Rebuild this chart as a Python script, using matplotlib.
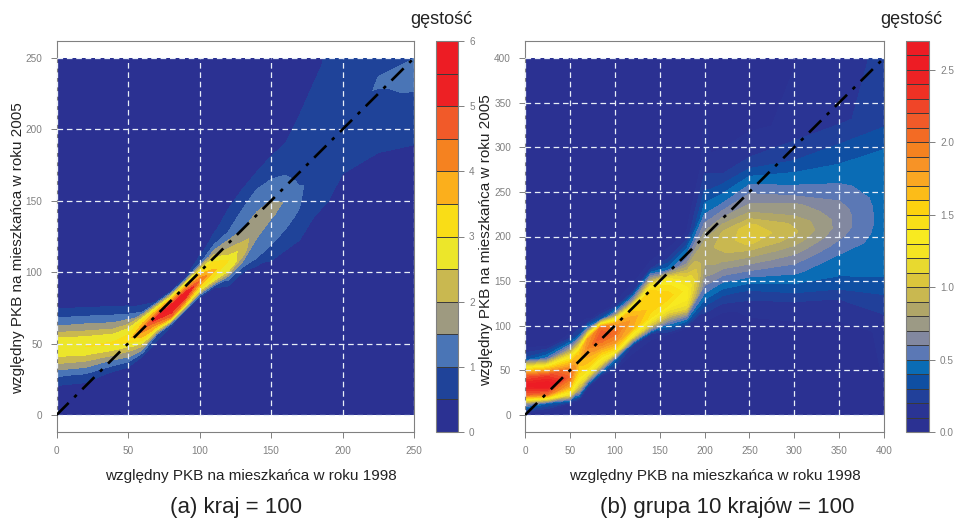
#!/usr/bin/env python3

import numpy as np
import matplotlib
matplotlib.use("Agg")
import matplotlib.pyplot as plt
from matplotlib.colors import ListedColormap, BoundaryNorm
from matplotlib.patches import Rectangle

plt.rcParams['font.family'] = ['Liberation Sans', 'DejaVu Sans']

XLABEL = 'względny PKB na mieszkańca w roku 1998'
YLABEL = 'względny PKB na mieszkańca w roku 2005'

# panel (a): density read column by column, relative to the ridge of the surface
a_ticks = [0, 50, 100, 150, 200, 250]
a_levels = [i * 0.5 for i in range(13)]
a_bar_ticks = [0, 1, 2, 3, 4, 5, 6]
a_colors = ['#2b3192', '#1f4399', '#4a75b6', '#9e9a80', '#c9b850', '#ece62a',
            '#f9dd17', '#fbaf1c', '#f58220', '#f15a29', '#ed2024', '#ed1c24']
a_x = [0, 20, 40, 50, 60, 70, 80, 90, 100, 110, 120, 130, 140, 150, 160, 170, 180, 190, 200, 225, 250]
a_ridge = [48, 48, 50, 52, 60, 68, 75, 84, 94, 101, 108, 118, 130, 144, 150, 153, 180, 190, 200, 225, 235]
a_offset = [-300, -60, -40, -28, -20, -12, -6, 0, 6, 12, 20, 28, 40, 60, 300]
a_density = [
    [0, 0, 0, .45, 1.1, 2.0, 2.6, 2.9, 2.5, 1.7, 1.0, .4, .05, 0, 0],
    [0, 0, 0, .3, .9, 1.8, 2.5, 3.0, 2.6, 1.85, 1.1, .42, .05, 0, 0],
    [0, 0, 0, .05, .42, 1.4, 2.3, 3.1, 2.6, 1.75, 1.0, .35, .05, 0, 0],
    [0, 0, 0, .03, .3, 1.4, 2.2, 3.2, 2.9, 1.9, .8, .25, .03, 0, 0],
    [0, 0, 0, 0, .3, 2.0, 3.4, 4.3, 3.1, 1.0, .2, .05, 0, 0, 0],
    [0, 0, 0, 0, .05, 1.0, 3.6, 5.3, 3.2, .4, .1, .03, 0, 0, 0],
    [0, 0, 0, 0, .03, .6, 4.5, 5.8, 3.5, .35, .05, 0, 0, 0, 0],
    [0, 0, 0, 0, .03, .25, 3.6, 5.8, 3.5, .45, .08, 0, 0, 0, 0],
    [0, 0, 0, 0, .03, .4, 2.9, 4.4, 3.2, .9, .3, .1, .03, 0, 0],
    [0, 0, 0, .02, .1, .5, 2.8, 3.6, 3.1, 1.8, .75, .42, .1, .02, 0],
    [0, 0, 0, .02, .2, 1.2, 2.9, 3.0, 2.2, 1.7, 1.0, .7, .4, .08, 0],
    [0, 0, 0, .05, .3, 1.3, 2.2, 2.2, 1.8, 1.45, 1.15, .95, .5, .15, 0],
    [0, 0, .05, .3, 1.0, 1.3, 1.5, 1.75, 1.7, 1.5, 1.25, 1.0, .5, .15, 0],
    [0, .05, .3, .9, 1.15, 1.35, 1.52, 1.7, 1.5, 1.35, 1.03, .75, .42, .2, 0],
    [0, .02, .3, .75, 1.0, 1.2, 1.4, 1.45, 1.35, 1.15, .95, .75, .5, .3, 0],
    [0, .05, .3, .55, .75, .92, 1.03, 1.1, 1.02, .93, .85, .75, .62, .48, .1],
    [0, .2, .52, .6, .65, .7, .72, .75, .72, .7, .65, .6, .55, .47, .2],
    [0, .2, .5, .6, .65, .7, .72, .72, .72, .7, .68, .65, .6, .52, .3],
    [0, .05, .35, .55, .65, .7, .72, .72, .72, .72, .7, .7, .65, .6, .4],
    [0, .2, .52, .6, .7, .75, .8, .9, 1.05, 1.0, .8, .75, .7, .65, .5],
    [0, .3, .58, .65, .72, .85, 1.1, 1.2, 1.2, 1.05, .9, .8, .75, .7, .5],
]

# panel (b)
b_ticks = [0, 50, 100, 150, 200, 250, 300, 350, 400]
b_levels = [i * 0.1 for i in range(28)]
b_bar_ticks = [0.0, 0.5, 1.0, 1.5, 2.0, 2.5]
b_colors = ['#2b3192', '#2a3494', '#21409a', '#0f4fa3', '#0a6cb5', '#5b78b5', '#8288a0',
            '#9c9a85', '#b0a668', '#c9b850', '#dcc63c', '#e8d92f', '#f4e422', '#f8ea20',
            '#f9e018', '#fdd20f', '#fcbc18', '#faa722', '#f79326', '#f58220', '#f36b24',
            '#f15a29', '#f04528', '#ee3124', '#ed2224', '#ed1c24', '#ed1c24']
b_x = [0, 25, 50, 60, 70, 85, 100, 120, 140, 160, 180, 200, 220, 250, 300, 350, 400]
b_ridge = [33, 33, 43, 60, 75, 88, 92, 108, 120, 133, 140, 165, 190, 203, 205, 210, 215]
b_offset = [-500, -120, -80, -60, -45, -30, -20, -10, 0, 10, 20, 30, 45, 60, 80, 120, 500]
b_density = [
    [0, 0, 0, 0, 0, .12, .75, 2.1, 2.55, 2.15, 1.3, .32, .05, .02, 0, 0, 0],
    [0, 0, 0, 0, 0, .05, .4, 2.0, 2.65, 2.3, 1.5, .55, .07, .02, 0, 0, 0],
    [0, 0, 0, 0, 0, .1, 1.2, 1.8, 2.1, 1.85, 1.4, .75, .12, .03, 0, 0, 0],
    [0, 0, 0, 0, .03, .95, 1.35, 1.55, 1.65, 1.55, .9, .3, .06, .02, 0, 0, 0],
    [0, 0, 0, 0, .05, 1.2, 1.55, 1.7, 1.9, 1.8, .7, .12, .03, 0, 0, 0, 0],
    [0, 0, 0, 0, .03, 1.15, 1.5, 1.9, 2.2, 2.05, .35, .05, .02, 0, 0, 0, 0],
    [0, 0, 0, 0, .03, .45, 1.45, 1.85, 2.05, 1.75, .7, .12, .03, 0, 0, 0, 0],
    [0, 0, 0, 0, .03, .2, 1.2, 1.7, 1.75, 1.55, .7, .2, .05, .02, 0, 0, 0],
    [0, 0, 0, 0, .02, .15, 1.0, 1.45, 1.55, 1.58, 1.5, .9, .15, .05, .02, 0, 0],
    [0, 0, 0, 0, .02, .55, 1.05, 1.4, 1.55, 1.45, 1.2, .45, .15, .07, .02, 0, 0],
    [0, 0, 0, 0, .02, .6, 1.15, 1.32, 1.35, 1.2, .95, .68, .42, .12, .04, .01, 0],
    [0, 0, .02, .1, .27, .48, .6, .7, .78, .82, .85, .8, .66, .5, .34, .12, 0],
    [0, 0, .05, .25, .45, .65, .78, .88, .93, .97, .85, .72, .52, .38, .2, .06, 0],
    [0, 0, .15, .33, .55, .75, .88, 1.02, 1.08, 1.02, .85, .73, .6, .45, .22, .08, 0],
    [0, .02, .18, .38, .52, .65, .75, .85, .92, .88, .78, .72, .55, .45, .3, .12, 0],
    [0, .04, .2, .38, .43, .5, .56, .62, .66, .66, .64, .6, .52, .45, .36, .18, .02],
    [0, .12, .3, .4, .42, .45, .45, .45, .45, .45, .45, .45, .45, .43, .41, .25, .1],
]

FIG_W = 955.0
FIG_H = 519.0
GREY = '#808080'


def px_axes(fig, left, top, right, bottom):
    return fig.add_axes([left / FIG_W, 1 - bottom / FIG_H,
                         (right - left) / FIG_W, (bottom - top) / FIG_H])


def draw_panel(fig, box, cbox, x, ridge, offset, density, levels, colors, ticks, bar_ticks, bar_fmt,
               caption, cap_x, xlabel_x, ylabel_pos, title_x):
    ax = px_axes(fig, *box)
    top = ticks[-1]
    margin = top * 17.0 / 357.0

    X, O = np.meshgrid(x, offset, indexing='ij')
    Y = np.array(ridge)[:, None] + O
    cmap = ListedColormap(colors)
    norm = BoundaryNorm(levels, cmap.N)
    cs = ax.contourf(X, Y, np.array(density), levels=levels, cmap=cmap, norm=norm)
    cs.set_clip_path(Rectangle((0, 0), top, top, transform=ax.transData))

    for t in ticks:
        ax.plot([t, t], [0, top], color='#e8eef8', lw=0.9, ls=(0, (4.5, 3)), zorder=3)
        ax.plot([0, top], [t, t], color='#e8eef8', lw=0.9, ls=(0, (4.5, 3)), zorder=3)
    ax.plot([0, top], [0, top], color='black', lw=1.9, ls=(0, (6.5, 3, 1.3, 3)), zorder=4)

    ax.set_xlim(0, top)
    ax.set_ylim(-margin, top + margin)
    ax.set_xticks(ticks)
    ax.set_yticks(ticks)
    ax.tick_params(colors=GREY, labelsize=7.2, length=4, width=0.7, pad=6)
    for s in ax.spines.values():
        s.set_color(GREY)
        s.set_linewidth(0.8)

    fig.text(xlabel_x / FIG_W, 1 - 476 / FIG_H, XLABEL, fontsize=11, color='#222222',
             ha='center', va='center')
    fig.text(ylabel_pos[0] / FIG_W, 1 - ylabel_pos[1] / FIG_H, YLABEL, fontsize=11, color='#222222',
             ha='center', va='center', rotation=90)
    fig.text(cap_x / FIG_W, 1 - 507 / FIG_H, caption, fontsize=16, color='#222222', ha='center', va='center')

    cax = px_axes(fig, *cbox)
    cb = fig.colorbar(cs, cax=cax, drawedges=True)
    cb.dividers.set_color('#3a3a3a')
    cb.dividers.set_linewidth(0.7)
    cb.outline.set_edgecolor(GREY)
    cb.outline.set_linewidth(0.8)
    cb.set_ticks(bar_ticks)
    cb.set_ticklabels([bar_fmt % t for t in bar_ticks])
    cax.minorticks_off()
    cax.tick_params(colors=GREY, labelsize=7.2, length=4, width=0.7, pad=4)
    fig.text(title_x / FIG_W, 1 - 20 / FIG_H, 'gęstość', fontsize=13, color='#222222',
             ha='center', va='center')


fig = plt.figure(figsize=(FIG_W / 100, FIG_H / 100), dpi=100)
draw_panel(fig, (56.5, 41, 414, 432), (436, 41, 458, 432), a_x, a_ridge, a_offset, a_density,
           a_levels, a_colors, a_ticks, a_bar_ticks, '%d', '(a) kraj = 100', 235.5, 251, (18, 248.5), 441)
draw_panel(fig, (525, 41, 884, 432), (906, 41, 929, 432), b_x, b_ridge, b_offset, b_density,
           b_levels, b_colors, b_ticks, b_bar_ticks, '%.1f', '(b) grupa 10 krajów = 100', 727, 715, (486, 240), 911)
fig.savefig('out.png', dpi=100)
